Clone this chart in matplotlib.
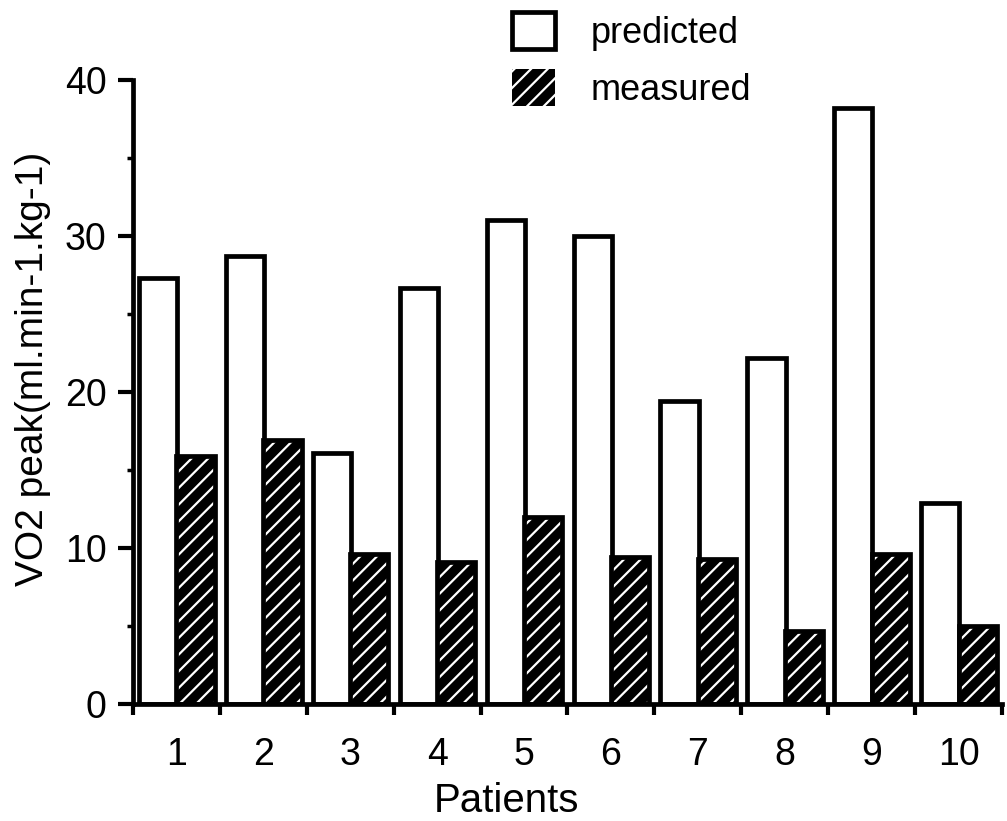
import matplotlib.pyplot as plt
from matplotlib.patches import Patch
from matplotlib.ticker import FixedLocator, MultipleLocator

patients = [1, 2, 3, 4, 5, 6, 7, 8, 9, 10]
predicted = [27.3, 28.7, 16.1, 26.7, 31.0, 30.0, 19.4, 22.2, 38.2, 12.9]
measured = [15.9, 16.9, 9.6, 9.1, 12.0, 9.4, 9.3, 4.7, 9.6, 5.0]

plt.rcParams["font.family"] = ["Liberation Sans", "DejaVu Sans"]
plt.rcParams["hatch.color"] = "white"
plt.rcParams["hatch.linewidth"] = 1.6

fig = plt.figure(figsize=(10.07, 8.21), dpi=100)
ax = fig.add_axes([0.132, 0.1425, 0.863, 0.760])

w = 0.44
lw = 3.4
xp = [p - 0.21 for p in patients]
xm = [p + 0.22 for p in patients]

# predicted: open bars
ax.bar(xp, predicted, width=w, color="white", edgecolor="black", linewidth=lw, zorder=2)
# measured: black with white diagonal hatching, outline drawn on top
ax.bar(xm, measured, width=w, color="black", hatch="//", linewidth=0, zorder=2)
ax.bar(xm, measured, width=w, fill=False, edgecolor="black", linewidth=lw, zorder=3)

ax.set_xlim(0.5, 10.5)
ax.set_ylim(0, 40)

for s in ["top", "right"]:
    ax.spines[s].set_visible(False)
for s in ["left", "bottom"]:
    ax.spines[s].set_linewidth(3.4)

ax.yaxis.set_major_locator(MultipleLocator(10))
ax.yaxis.set_minor_locator(MultipleLocator(5))
ax.tick_params(axis="y", which="major", length=11, width=3, pad=8, labelsize=27)
ax.tick_params(axis="y", which="minor", length=4, width=2.5)

ax.xaxis.set_major_locator(FixedLocator(patients))
ax.xaxis.set_minor_locator(FixedLocator([p + 0.5 for p in [0] + patients]))
ax.tick_params(axis="x", which="major", length=0, pad=24, labelsize=27)
ax.tick_params(axis="x", which="minor", length=8, width=3)

ax.set_xlabel("Patients", fontsize=29)
ax.xaxis.set_label_coords(0.43, -0.125)
ax.set_ylabel("VO2 peak(ml.min-1.kg-1)", fontsize=28)
ax.yaxis.set_label_coords(-0.094, 0.537)

handles = [
    Patch(facecolor="white", edgecolor="black", linewidth=lw),
    Patch(facecolor="black", hatch="//", linewidth=0),
]
fig.legend(handles, ["predicted", "measured"], loc="upper left",
           bbox_to_anchor=(0.499, 0.996), frameon=False, fontsize=26,
           handlelength=1.2, handleheight=1.2, handletextpad=1.0,
           labelspacing=0.5, borderaxespad=0.0, borderpad=0.25)

fig.savefig("out.png", dpi=100)
